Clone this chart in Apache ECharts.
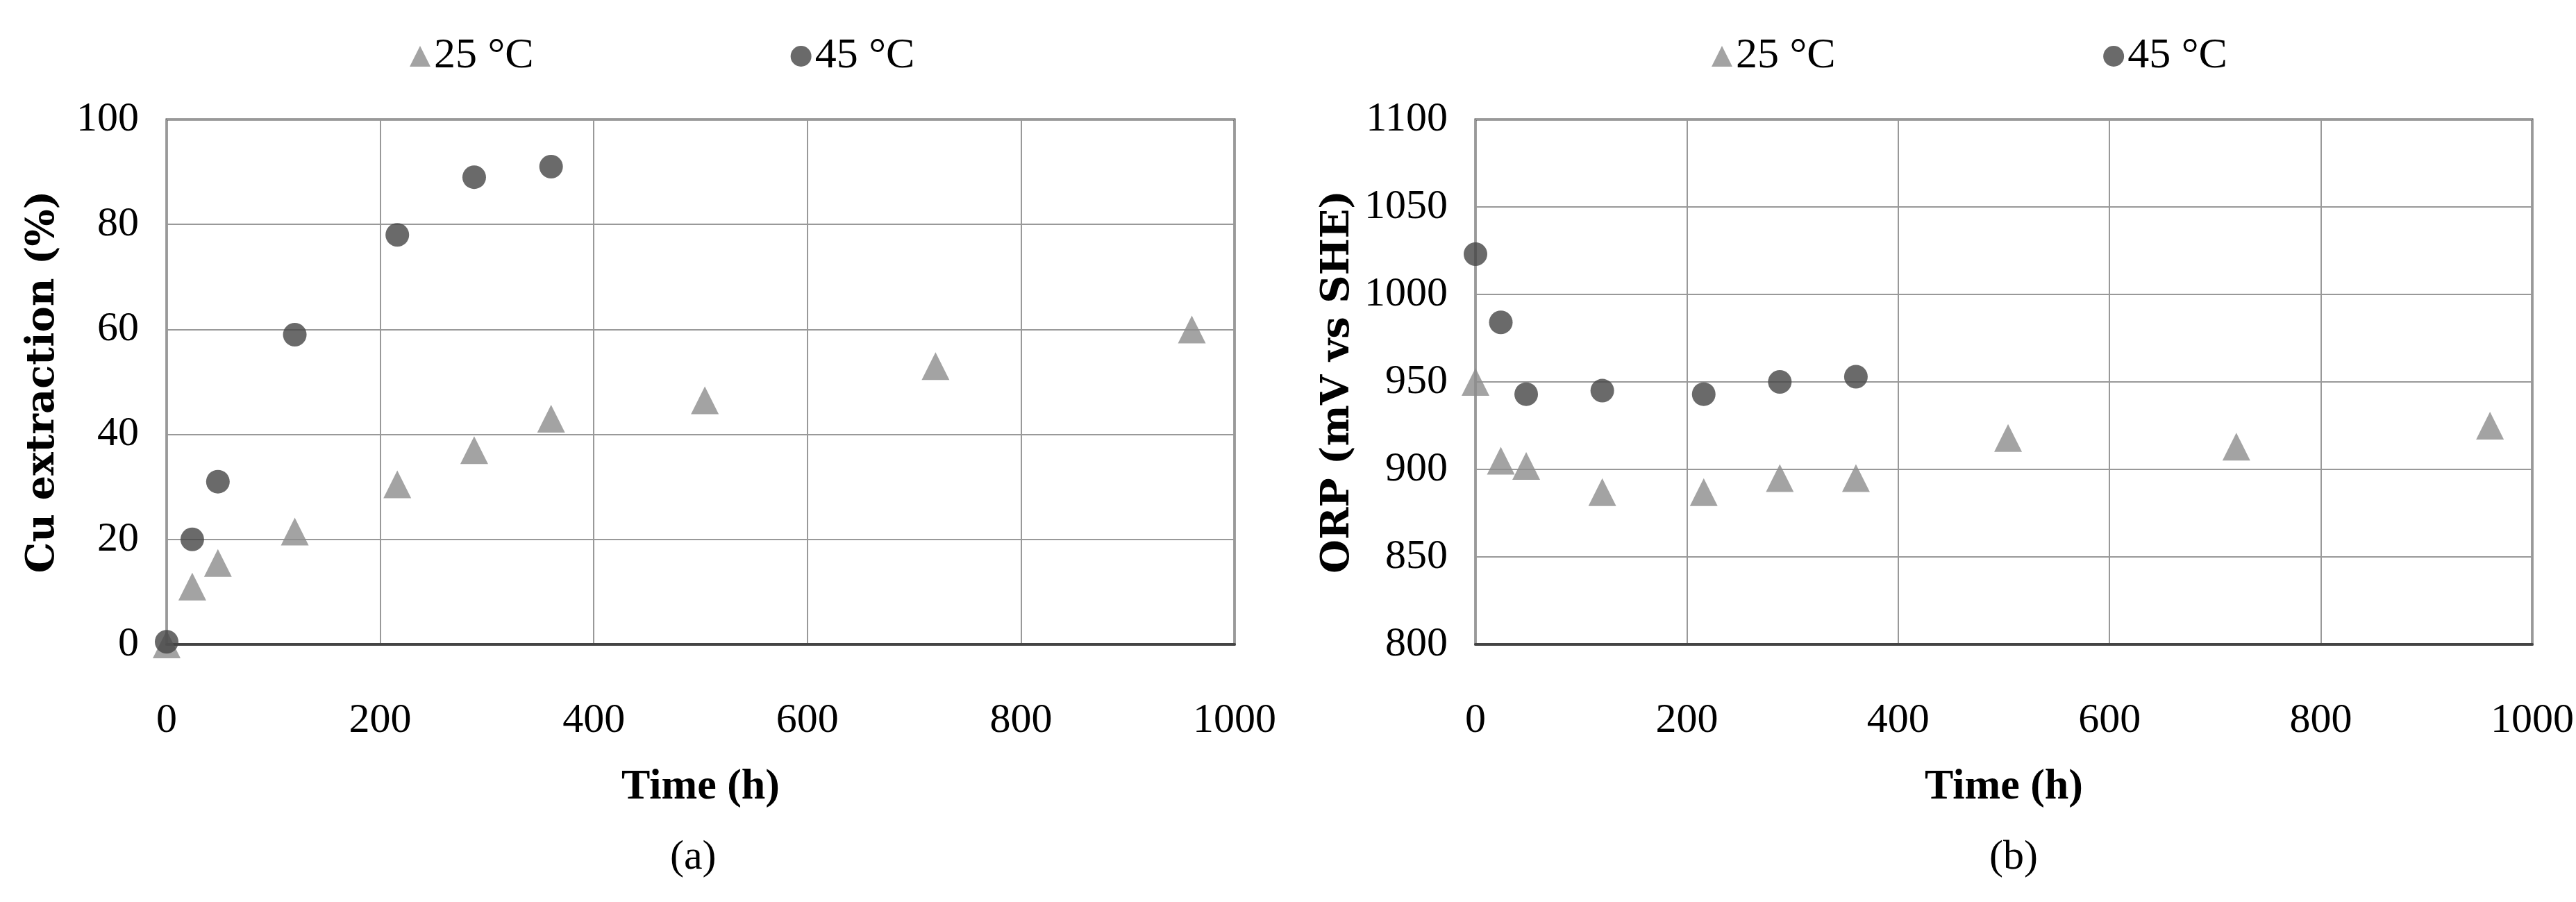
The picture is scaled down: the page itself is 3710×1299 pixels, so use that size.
<!DOCTYPE html>
<html>
<head>
<meta charset="utf-8">
<script src="https://cdn.jsdelivr.net/npm/echarts@6/dist/echarts.min.js"></script>
<style>
  html, body { margin: 0; padding: 0; background: #fff; }
  #main { width: 3710px; height: 1299px; }
</style>
</head>
<body>
<div id="main"></div>
<script>
const timeA25 = [0, 24, 48, 120, 216, 288, 360, 504, 720, 960];
const timeA45 = [0, 24, 48, 120, 216, 288, 360];
const cu25 = [0, 11, 15.5, 21.5, 30.5, 37, 43, 46.5, 53, 60];
const cu45 = [0.5, 20, 31, 59, 78, 89, 91];
const orp25 = [950, 905, 902, 887, 887, 895, 895, 918, 913, 925];
const orp45 = [1023, 984, 943, 945, 943, 950, 953];

const font = '"Liberation Serif", "DejaVu Serif", serif';
const pair = (xs, ys) => xs.map((x, i) => [x, ys[i]]);
const plain = v => String(v);

const chart = echarts.init(document.getElementById('main'));

function xAxis(gi) {
  return {
    gridIndex: gi, type: 'value', min: 0, max: 1000, interval: 200,
    name: 'Time (h)', nameLocation: 'middle', nameGap: 175,
    nameTextStyle: { fontFamily: font, fontWeight: 'bold', fontSize: 62, color: '#000' },
    axisLabel: { fontFamily: font, fontSize: 60, color: '#000', margin: 80, formatter: plain },
    axisLine: { show: true, lineStyle: { color: '#444', width: 4 } },
    axisTick: { show: false },
    splitLine: { show: true, lineStyle: { color: '#999', width: 2 } }
  };
}
function yAxis(gi, min, max, interval, name, gap) {
  return {
    gridIndex: gi, type: 'value', min, max, interval,
    name, nameLocation: 'middle', nameGap: gap,
    nameTextStyle: { fontFamily: 'DejaVu Serif', fontWeight: 'bold', fontSize: 56, color: '#000' },
    axisLabel: { fontFamily: font, fontSize: 60, color: '#000', margin: 40, formatter: plain },
    axisLine: { show: false },
    axisTick: { show: false },
    splitLine: { show: true, lineStyle: { color: '#999', width: 2 } }
  };
}
function tri(name, gi, data) {
  return { name, type: 'scatter', xAxisIndex: gi, yAxisIndex: gi, data,
    symbol: 'triangle', symbolSize: 40, itemStyle: { color: '#8c8c8c' } };
}
function dot(name, gi, data) {
  return { name, type: 'scatter', xAxisIndex: gi, yAxisIndex: gi, data,
    symbol: 'circle', symbolSize: 34, itemStyle: { color: '#454545' } };
}
const legendStyle = { fontFamily: font, fontSize: 62, color: '#000' };

chart.setOption({
  backgroundColor: '#fff',
  animation: false,
  grid: [
    { left: 240, width: 1538, top: 172, height: 756, show: true, borderColor: '#444', borderWidth: 3 },
    { left: 2125, width: 1530, top: 172, height: 756, show: true, borderColor: '#444', borderWidth: 3 }
  ],
  legend: [
    { left: 585, top: 45, itemGap: 370, itemWidth: 30, itemHeight: 30, textStyle: legendStyle,
      data: [{ name: '25 °C', icon: 'triangle' }, { name: '45 °C', icon: 'circle' }] },
    { left: 2460, top: 45, itemGap: 370, itemWidth: 30, itemHeight: 30, textStyle: legendStyle,
      data: [{ name: '25 °C ', icon: 'triangle' }, { name: '45 °C ', icon: 'circle' }] }
  ],
  xAxis: [xAxis(0), xAxis(1)],
  yAxis: [
    yAxis(0, 0, 100, 20, 'Cu extraction (%)', 150),
    yAxis(1, 800, 1100, 50, 'ORP (mV vs SHE)', 170)
  ],
  graphic: [
    { type: 'text', left: 965, top: 1205, style: { text: '(a)', font: '60px ' + font, fill: '#000' } },
    { type: 'text', left: 2865, top: 1205, style: { text: '(b)', font: '60px ' + font, fill: '#000' } }
  ],
  series: [
    tri('25 °C', 0, pair(timeA25, cu25)),
    dot('45 °C', 0, pair(timeA45, cu45)),
    tri('25 °C ', 1, pair(timeA25, orp25)),
    dot('45 °C ', 1, pair(timeA45, orp45))
  ]
});
</script>
</body>
</html>
